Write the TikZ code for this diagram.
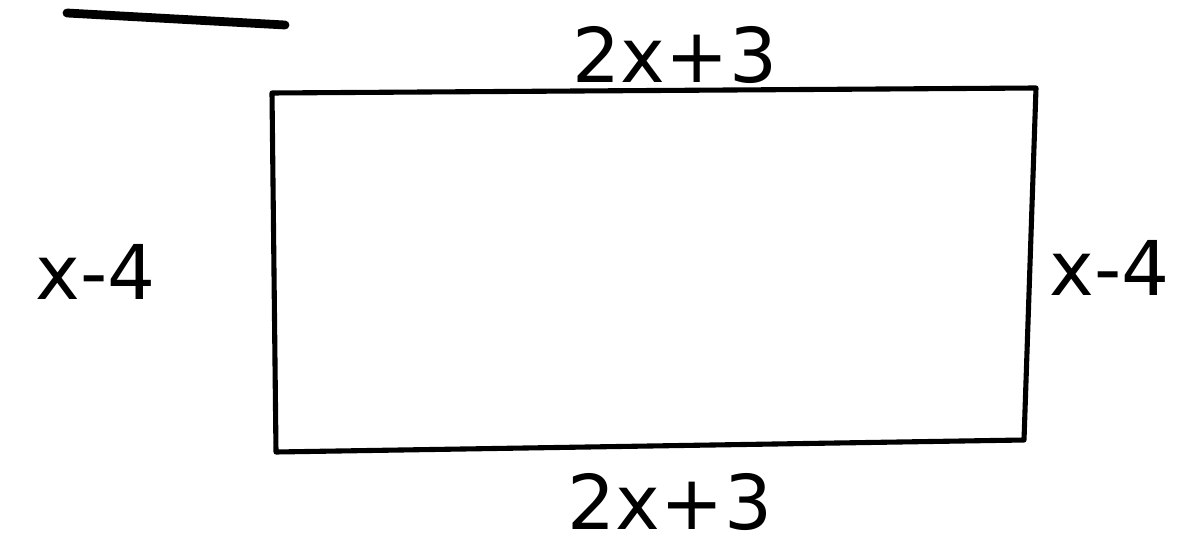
\documentclass[tikz,border=0pt]{standalone}
\usepackage{fontspec}
\setmainfont{DejaVu Sans}
\usetikzlibrary{positioning}

\begin{document}
\begin{tikzpicture}[
    x=0.02cm, y=-0.02cm,
    every node/.style={font=\fontsize{43}{43}\selectfont},
    pen/.style={line width=2.9pt, line cap=round, line join=round},
    dimlabel/.style={inner sep=2pt},
]
\useasboundingbox (0,0) rectangle (1196,547);

% ---- Stroke at top left ----
\coordinate (mark start) at (67,13);
\coordinate (mark end) at (285,25);
\draw[pen, line width=5pt] (mark start) -- (mark end);

% ---- Rectangle corners ----
\coordinate (tl) at (272,93);
\coordinate (tr) at (1036,88);
\coordinate (br) at (1024,440);
\coordinate (bl) at (276,452);
\draw[pen] (tl) -- (tr) -- (br) -- (bl) -- cycle;

% ---- Side labels ----
\node[dimlabel] (top len) at (675,55) {2x+3};
\node[dimlabel] (bottom len) at (670,502) {2x+3};
\node[dimlabel] (left len) at (96,272) {x-4};
\node[dimlabel] (right len) at (1110,268) {x-4};

\end{tikzpicture}
\end{document}
